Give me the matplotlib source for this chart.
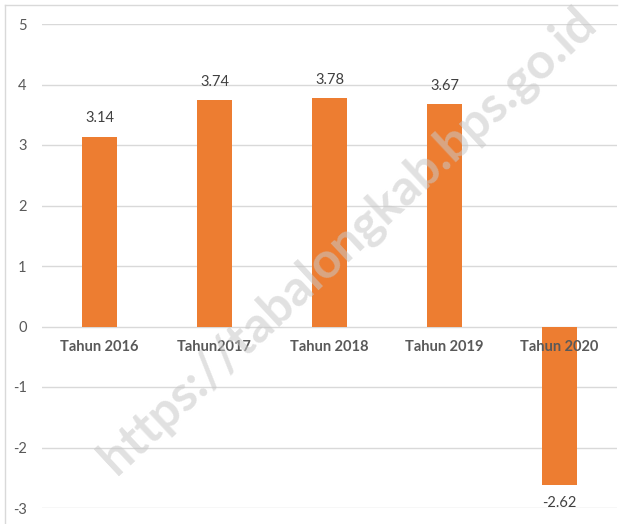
import matplotlib.pyplot as plt
from matplotlib.lines import Line2D

categories = ["Tahun 2016", "Tahun2017", "Tahun 2018", "Tahun 2019", "Tahun 2020"]
growth = [3.14, 3.74, 3.78, 3.67, -2.62]
y_ticks = [-3, -2, -1, 0, 1, 2, 3, 4, 5]

BAR_COLOR = "#ED7D31"
TEXT_COLOR = "#595959"
GRID_COLOR = "#D9D9D9"

plt.rcParams["font.family"] = ["Lato", "DejaVu Sans"]

fig = plt.figure(figsize=(6.26, 5.24), dpi=100)
ax = fig.add_axes([42 / 626, 16 / 524, 575 / 626, 484 / 524])

x = range(len(categories))
ax.bar(x, growth, width=0.3, color=BAR_COLOR, zorder=3)

ax.set_xlim(-0.5, len(categories) - 0.5)
ax.set_ylim(-3, 5)
ax.set_yticks(y_ticks)
ax.set_yticklabels([str(t) for t in y_ticks], color=TEXT_COLOR, fontsize=10.5)
ax.tick_params(axis="y", length=0, pad=11)
ax.set_xticks([])
ax.grid(axis="y", color=GRID_COLOR, linewidth=1, zorder=0)
for side in ax.spines.values():
    side.set_visible(False)

# category names sit just under the zero line
for i, name in enumerate(categories):
    ax.annotate(name, (i, 0), xytext=(0, -20), textcoords="offset points",
                ha="center", va="bottom", fontsize=10.5, fontweight="bold",
                color=TEXT_COLOR, zorder=4)

# value labels
for i, v in enumerate(growth):
    off = 8 if v >= 0 else -8
    ax.annotate(f"{v:.2f}", (i, v), xytext=(0, off), textcoords="offset points",
                ha="center", va="bottom" if v >= 0 else "top",
                fontsize=10.5, color="#404040", zorder=4)

# watermark
fig.text(0.555, 0.54, "https://tabalongkab.bps.go.id", rotation=43,
         ha="center", va="center", fontsize=36, fontweight="bold",
         color="#C8C8C8", alpha=0.55, zorder=10)

# chart frame (left and top edges)
fig.add_artist(Line2D([5 / 626, 5 / 626], [0, 1 - 5 / 524], color="#D9D9D9", lw=1))
fig.add_artist(Line2D([5 / 626, 617 / 626], [1 - 5 / 524, 1 - 5 / 524], color="#D9D9D9", lw=1))

fig.savefig("out.png", dpi=100)
